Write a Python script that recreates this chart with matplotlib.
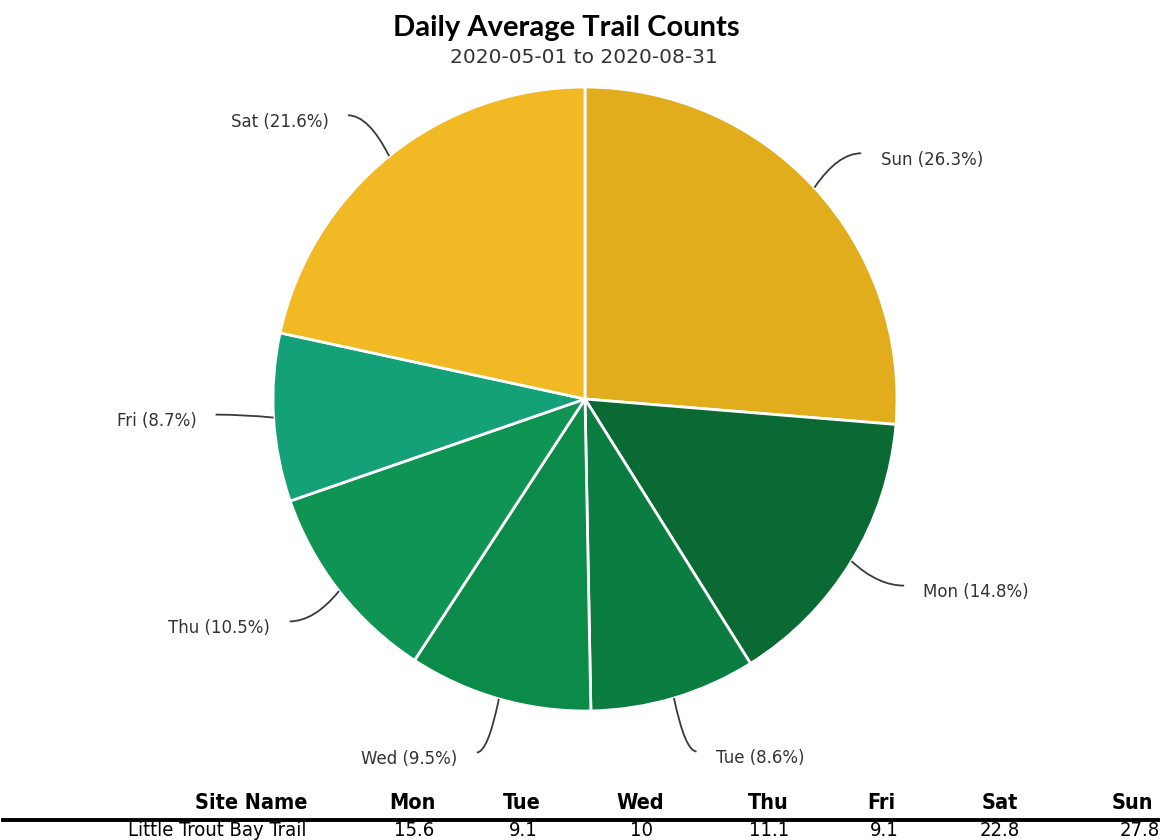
import numpy as np
import matplotlib
matplotlib.use("Agg")
import matplotlib.pyplot as plt
from matplotlib import font_manager
from matplotlib.lines import Line2D
from matplotlib.path import Path
from matplotlib.patches import PathPatch

# ---- data -------------------------------------------------------------
days = ["Sun", "Mon", "Tue", "Wed", "Thu", "Fri", "Sat"]
day_share_pct = [26.3, 14.8, 8.6, 9.5, 10.5, 8.7, 21.6]
day_colors = ["#E1AD1C", "#0B6934", "#0B7D41", "#0C8A4A", "#0F9453", "#15A177", "#F1B923"]

table_columns = ["Site Name", "Mon", "Tue", "Wed", "Thu", "Fri", "Sat", "Sun"]
site_names = ["Little Trout Bay Trail"]
site_values = [["15.6", "9.1", "10", "11.1", "9.1", "22.8", "27.8"]]

title = "Daily Average Trail Counts"
subtitle = "2020-05-01 to 2020-08-31"

# ---- figure -----------------------------------------------------------
W, H = 1160, 840
fig = plt.figure(figsize=(W / 100, H / 100), dpi=100)
fig.patch.set_facecolor("white")


def fx(px):
    return px / W


def fy(py):
    return 1 - py / H


installed = {f.name for f in font_manager.fontManager.ttflist}
title_family = "Lato" if "Lato" in installed else "DejaVu Sans"
if "Liberation Sans Narrow" in installed:
    table_font = dict(family="Liberation Sans Narrow")
else:
    table_font = dict(family="DejaVu Sans", stretch="condensed")

# ---- pie --------------------------------------------------------------
cx, cy, R = 585, 399, 312
ax = fig.add_axes([fx(cx - R), fy(cy + R), 2 * R / W, 2 * R / H])
wedges, _ = ax.pie(
    day_share_pct,
    colors=day_colors,
    startangle=90,
    counterclock=False,
    radius=1.0,
    wedgeprops=dict(edgecolor="white", linewidth=2.0),
)
ax.set_xlim(-1, 1)
ax.set_ylim(-1, 1)
ax.set_aspect("equal")
ax.axis("off")

label_color = "#333333"
line_color = "#3a3a3a"
for day, pct, w in zip(days, day_share_pct, wedges):
    mid = np.deg2rad((w.theta1 + w.theta2) / 2)
    edge = np.array([np.cos(mid), np.sin(mid)])
    # leader end sits just outside the rim, nudged toward the horizontal
    s, c = np.sin(mid), np.cos(mid)
    ang_end = mid - np.sign(c) * np.sign(s) * np.deg2rad(1.0)
    end = 1.185 * np.array([np.cos(ang_end), np.sin(ang_end)])
    # curved leader: leaves the rim steeply, arrives horizontally
    ctrl = np.array([edge[0] + 0.5 * (end[0] - edge[0]), end[1]])
    leader = Path([edge, ctrl, end], [Path.MOVETO, Path.CURVE3, Path.CURVE3])
    ax.add_patch(PathPatch(leader, facecolor="none", edgecolor=line_color,
                           lw=1.3, clip_on=False))
    right = c > 0
    gap = 0.062
    ax.text(end[0] + (gap if right else -gap), end[1] - 0.021,
            f"{day} ({pct}%)", ha="left" if right else "right", va="center",
            fontsize=12, color=label_color, family="DejaVu Sans")

# ---- titles -----------------------------------------------------------
fig.text(fx(566), fy(36), title, ha="center", va="baseline",
         fontsize=21, fontweight="bold", family=title_family, color="black")
fig.text(fx(584), fy(63), subtitle, ha="center", va="baseline",
         fontsize=14.5, family="DejaVu Sans", color="#333333")

# ---- summary table ----------------------------------------------------
header_x = [307, 412, 522, 640, 768, 881, 1000, 1132]
value_x = [307, 414, 523, 641, 769, 884, 1000, 1140]
header_y, row_y = 803, 831

for i, col in enumerate(table_columns):
    fig.text(fx(header_x[i]), fy(header_y), col,
             ha="right" if i == 0 else "center", va="center",
             fontsize=15.5, fontweight="bold", color="black", **table_font)

for name, vals in zip(site_names, site_values):
    fig.text(fx(value_x[0]), fy(row_y), name, ha="right", va="center",
             fontsize=14.5, color="black", **table_font)
    for j, v in enumerate(vals, start=1):
        fig.text(fx(value_x[j]), fy(row_y), v, ha="center", va="center",
                 fontsize=14.5, color="black", **table_font)

fig.add_artist(Line2D([fx(3), 1.0], [fy(820), fy(820)], color="black",
                      lw=2.8, transform=fig.transFigure))

fig.savefig("out.png", dpi=100, facecolor="white")
